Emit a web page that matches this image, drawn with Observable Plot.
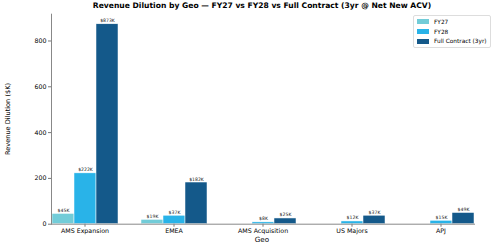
<!DOCTYPE html>
<html>
<head>
<meta charset="utf-8">
<script src="https://cdn.jsdelivr.net/npm/d3@7"></script>
<script src="https://cdn.jsdelivr.net/npm/@observablehq/plot@0.6"></script>
<style>
  html, body { margin: 0; padding: 0; background: #fff; }
  #wrap { position: relative; width: 500px; height: 247px; font-family: "DejaVu Sans", sans-serif; overflow: hidden; }
  #chart svg { display: block; }
  #title { position: absolute; left: 28px; width: 468px; top: 1px; text-align: center; font-weight: bold; font-size: 7.6px; color: #000; white-space: nowrap; }
  #ylabel { position: absolute; left: 8px; top: 118.5px; transform: translate(-50%, -50%) rotate(-90deg); font-size: 6.6px; white-space: nowrap; color: #000; }
  #xlabel { position: absolute; left: 262px; top: 239px; transform: translate(-50%, -50%); font-size: 7.2px; white-space: nowrap; color: #000; }
  #legend { position: absolute; left: 413px; top: 15px; width: 76px; height: 31px; border: 1px solid #ddd; border-radius: 2px; background: rgba(255,255,255,0.85); font-size: 5.8px; }
  #legend .row { position: absolute; left: 3px; height: 8px; display: flex; align-items: center; white-space: nowrap; }
  #legend .sw { width: 12px; height: 4.5px; margin-right: 5px; }
</style>
</head>
<body>
<div id="wrap">
  <div id="chart"></div>
  <div id="title">Revenue Dilution by Geo — FY27 vs FY28 vs Full Contract (3yr @ Net New ACV)</div>
  <div id="ylabel">Revenue Dilution ($K)</div>
  <div id="xlabel">Geo</div>
  <div id="legend"></div>
</div>
<script>
const geos = ["AMS Expansion", "EMEA", "AMS Acquisition", "US Majors", "APJ"];
const series = ["FY27", "FY28", "Full Contract (3yr)"];
const fy27 = [45, 19, 0, 0, 0];
const fy28 = [222, 37, 8, 12, 15];
const full = [873, 182, 25, 37, 49];
const colors = ["#72ccd8", "#29b3e8", "#14598a"];
const yTicks = [0, 200, 400, 600, 800];

const values = [fy27, fy28, full];
const data = [];
geos.forEach((g, i) => {
  series.forEach((s, j) => data.push({geo: g, series: s, value: values[j][i]}));
});

const chart = Plot.plot({
  width: 500,
  height: 247,
  marginLeft: 28,
  marginRight: 4,
  marginTop: 13.7,
  marginBottom: 23.3,
  style: {fontFamily: "DejaVu Sans, sans-serif", fontSize: "6.3px", color: "#000", background: "#fff"},
  fx: {domain: geos, paddingInner: 0.25, paddingOuter: 0.246, label: null},
  x: {domain: series, padding: 0, axis: null},
  y: {domain: [0, 917], label: null},
  color: {domain: series, range: colors},
  marks: [
    Plot.barY(data, {fx: "geo", x: "series", y: "value", fill: "series", stroke: "white", strokeWidth: 0.5}),
    Plot.text(data.filter(d => d.value > 0), {fx: "geo", x: "series", y: "value", text: d => `$${d.value}K`, dy: -3.5, fontSize: 4.6, fill: "#222"}),
    Plot.axisY({ticks: yTicks, tickSize: 3, tickPadding: 2, label: null, stroke: "#777"}),
    Plot.axisFx({anchor: "bottom", tickSize: 3, tickPadding: 1.5, label: null, stroke: "#777"}),
    Plot.frame({anchor: "bottom", stroke: "#888", strokeWidth: 1, facet: "super"}),
    Plot.frame({anchor: "left", stroke: "#888", strokeWidth: 1, facet: "super"})
  ]
});
document.getElementById("chart").appendChild(chart);

const legend = document.getElementById("legend");
series.forEach((s, j) => {
  const row = document.createElement("div");
  row.className = "row";
  row.style.top = (1.7 + j * 9.8) + "px";
  const sw = document.createElement("div");
  sw.className = "sw";
  sw.style.background = colors[j];
  const t = document.createElement("span");
  t.textContent = s;
  row.appendChild(sw);
  row.appendChild(t);
  legend.appendChild(row);
});
</script>
</body>
</html>
